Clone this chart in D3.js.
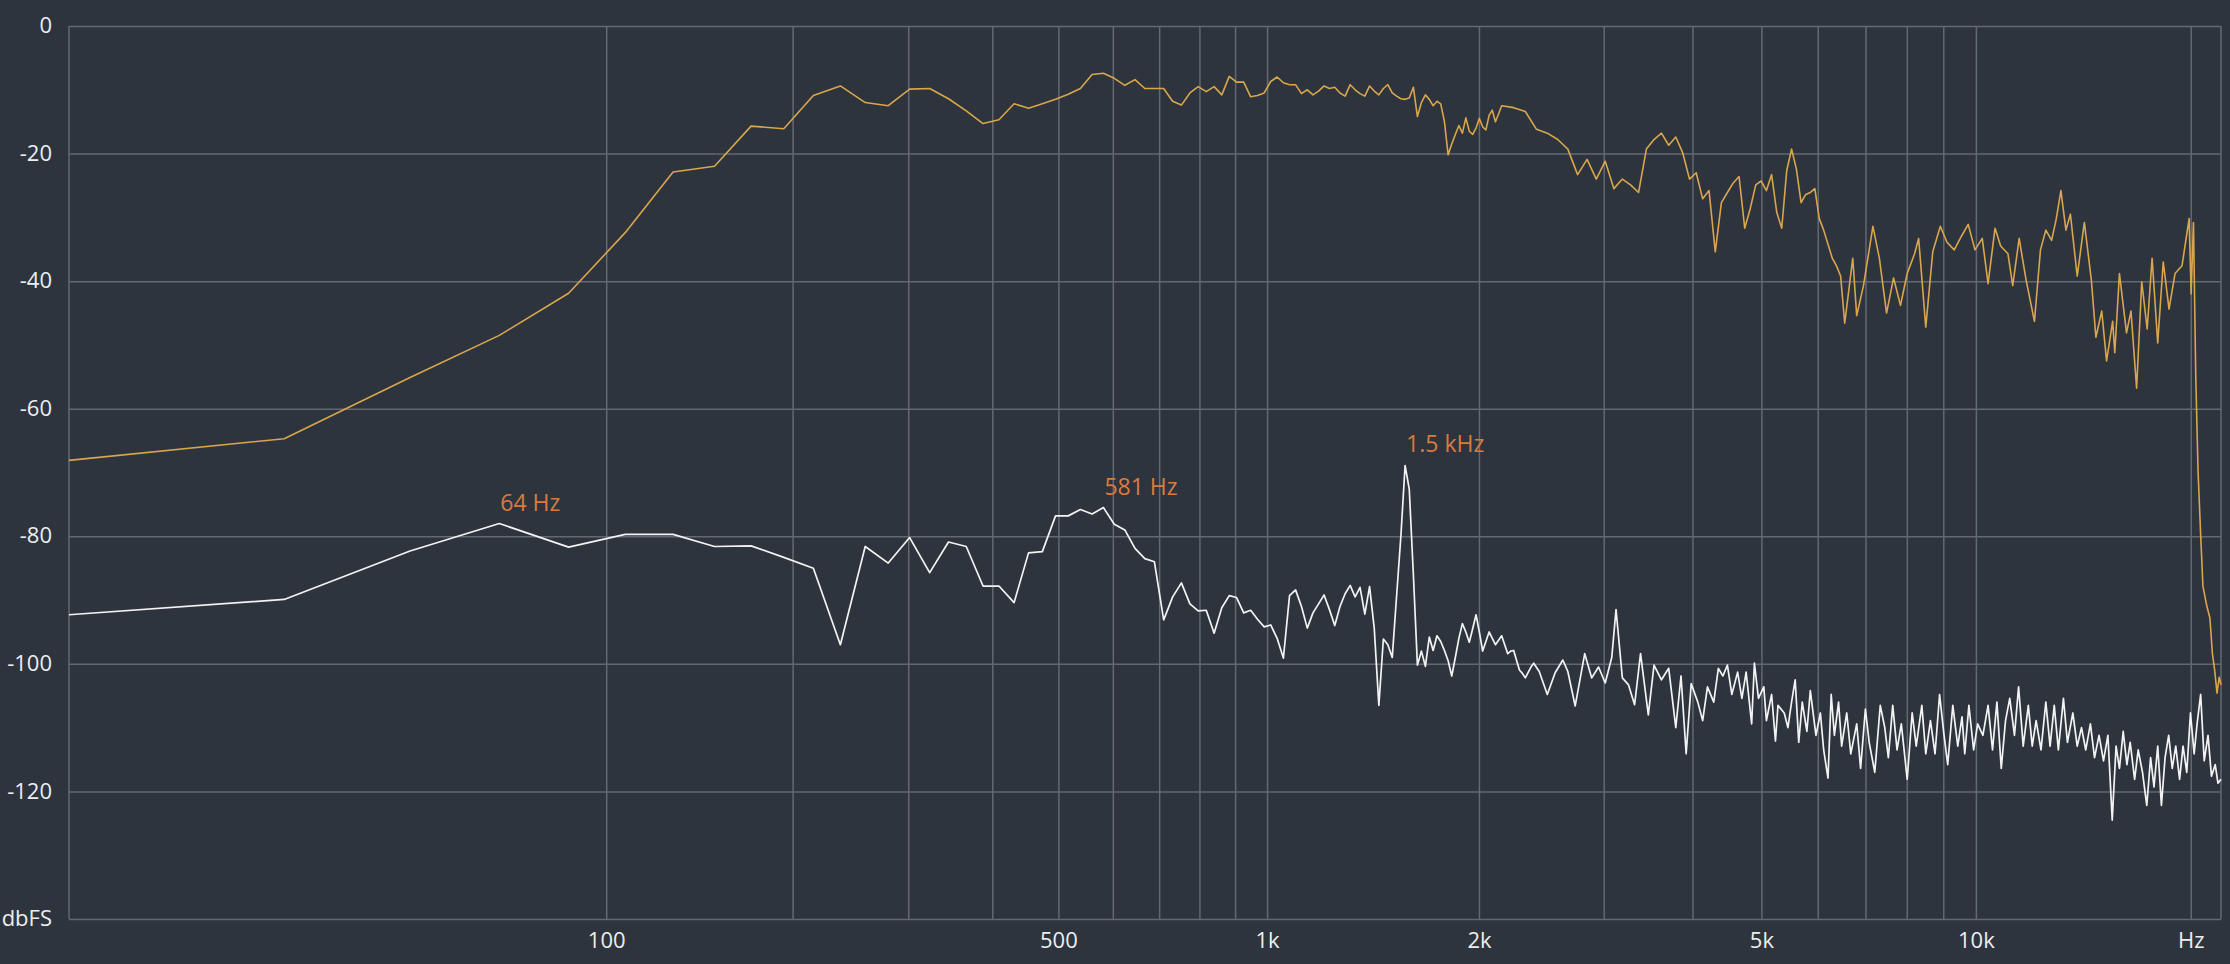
<!DOCTYPE html>
<html>
<head>
<meta charset="utf-8">
<script src="https://cdn.jsdelivr.net/npm/d3@7"></script>
<style>
  body { margin: 0; background: #2e343d; }
  svg { display: block; }
  text { font-family: "Open Sans", Lato, sans-serif; }
</style>
</head>
<body>
<svg id="spectrum"></svg>
<script>
// FFT bins (44.1 kHz, 2048 points) and levels in dBFS
const binHz = 44100 / 2048;

const yellowBins = [0,1,2,3,4,5,6,7,8,9,10,11,12,13,14,15,16,17,18,19,20,21,22,23,24,25,26,27,28,29,30,31,32,33,34,35,36,37,38,39,40,41,42,43,44,45,46,47,48,49,50,
  51,52,53,54,55,56,57,58,59,60,61,62,63,64,65,66,67,68,69,70,71,72,73,74,75,76,77,78,79,80,81,82,83,84,85,86,87,88,89,90,91,92,93,94,95,96,97,98,99,
  100,104,108,112,116,120,124,128,132,136,140,144,148,152,156,160,164,168,172,176,180,184,188,192,196,200,204,208,212,216,220,224,228,232,236,240,244,248,252,256,260,264,268,272,276,280,284,288,292,296,300,
  304,312,316,323,333,340,348,356,364,372,381,386,395,404,414,423,433,443,453,463,474,483,494,503,515,523,534,546,561,572,582,593,602,611,621,630,644,659,674,684,697,708,722,727,738,755,766,780,793,807,820,835,850,866,883,903,910,924,930,937,944,951,959,966,978,988,996,1003,1011,1018,1024];
const yellowDb = [-68.1,-64.7,-55.1,-48.5,-41.9,-32.4,-22.9,-22.0,-15.7,-16.1,-10.9,-9.4,-12.0,-12.5,-9.9,-9.8,-11.4,-13.3,-15.3,-14.7,-12.2,-12.9,-12.2,-11.5,-10.7,-9.8,-7.6,-7.4,-8.2,-9.3,-8.4,-9.8,-9.8,-9.8,-11.8,-12.4,-10.5,-9.5,-10.3,-9.5,-10.8,-7.9,-8.8,-8.8,-11.1,-10.9,-10.5,-8.7,-8.0,-8.9,-9.2,
  -9.2,-10.6,-10.0,-10.8,-10.2,-9.4,-9.8,-9.6,-10.5,-11.0,-9.2,-10.0,-10.6,-11.0,-9.4,-10.2,-10.8,-9.8,-9.2,-10.5,-11.0,-11.4,-11.5,-11.3,-9.6,-14.2,-12.0,-10.8,-11.5,-12.5,-11.8,-12.2,-15.0,-20.2,-18.5,-17.0,-15.6,-16.8,-14.4,-16.5,-17.0,-16.0,-14.5,-15.8,-16.3,-14.0,-13.2,-15.0,-13.8,
  -12.5,-12.8,-13.4,-16.2,-16.8,-17.8,-19.3,-23.3,-20.9,-24.0,-21.2,-25.5,-24.0,-24.9,-26.1,-19.3,-17.8,-16.8,-18.7,-17.4,-19.9,-24.0,-23.0,-27.1,-25.8,-35.4,-27.7,-26.1,-24.6,-23.6,-31.7,-28.6,-24.9,-24.3,-25.8,-23.3,-29.2,-31.7,-22.7,-19.3,-22.4,-27.7,-26.4,-26.1,-25.5,-30.2,-32.0,-34.2,-36.4,-37.6,-39.2,
  -46.6,-36.4,-45.4,-40.7,-31.4,-36.4,-45.0,-39.5,-43.8,-38.8,-35.7,-33.3,-47.2,-35.4,-31.4,-33.9,-35.1,-33.0,-31.1,-35.1,-33.3,-40.4,-31.7,-34.5,-35.7,-40.7,-33.3,-39.8,-46.3,-35.1,-32.0,-33.6,-30.2,-25.8,-32.0,-29.5,-39.2,-30.8,-39.8,-48.8,-44.7,-52.5,-46.3,-51.2,-38.8,-48.1,-44.7,-56.8,-40.1,-47.5,-36.4,-49.7,-37.0,-44.4,-38.8,-37.6,-35.1,-30.2,-42.0,-30.8,-55.0,-69.8,-79.8,-87.8,-90.9,-92.8,-98.4,-100.9,-104.6,-102.1,-103.3];

const whiteBins = [0,1,2,3,4,5,6,7,8,9,10,11,12,13,14,15,16,17,18,19,20,21,22,23,24,25,26,27,28,29,30,31,32,33,34,35,36,37,38,39,40,41,42,43,44,45,46,47,48,49,50,
  51,52,53,54,55,56,57,58,59,60,61,62,63,64,65,66,67,68,69,70,71,72,73,74,75,76,77,78,79,80,81,82,83,84,85,86,87,88,89,90,91,92,93,94,95,96,97,98,99,100,
  101,102,103,104,105,106,107,108,110,111,113,116,119,122,124,127,131,134,137,140,143,145,148,151,154,157,161,
  164,168,172,176,179,182,185,189,192,195,199,202,205,208,211,215,218,221,225,227,230,234,236,240,243,245,250,253,256,259,262,265,269,272,277,
  281,284,288,291,294,298,301,306,310,316,320,325,329,335,341,346,350,355,360,365,372,378,383,390,395,401,407,413,419,424,431,438,444,
  448,454,461,467,475,483,490,497,504,511,518,526,533,541,550,557,564,573,582,590,598,606,616,624,635,644,653,662,672,681,691,701,711,
  721,730,738,747,756,764,775,784,795,806,816,825,835,845,855,865,875,885,896,906,917,928,939,948,959,970,982,993,1005,1014,1024];
const whiteDb = [-92.3,-89.9,-82.3,-78.0,-81.7,-79.7,-79.7,-81.6,-81.5,-83.3,-85.0,-97.0,-81.6,-84.2,-80.2,-85.7,-80.9,-81.6,-87.8,-87.8,-90.4,-82.6,-82.4,-76.8,-76.8,-75.8,-76.5,-75.5,-78.1,-79.0,-81.9,-83.5,-84.0,-93.1,-89.5,-87.3,-90.6,-91.7,-91.6,-95.2,-91.2,-89.3,-89.6,-92.0,-91.6,-93.0,-94.2,-93.9,-96.0,-99.1,-89.3,
  -88.4,-91.0,-94.4,-92.0,-90.6,-89.2,-91.5,-94.0,-91.0,-89.0,-87.7,-89.5,-88.0,-92.2,-87.9,-94.4,-106.5,-96.1,-97.0,-99.0,-89.4,-80.0,-68.9,-72.6,-86.0,-100.2,-98.0,-100.4,-95.8,-97.9,-95.6,-96.5,-97.9,-99.5,-101.9,-99.0,-96.0,-93.7,-95.0,-96.6,-94.5,-92.3,-95.0,-98.0,-96.5,-95.0,-96.0,-97.0,-96.3,-95.6,
  -97.0,-98.4,-98.0,-97.9,-99.5,-101.0,-101.5,-102.2,-100.5,-99.9,-101.2,-104.8,-101.4,-99.4,-101.2,-106.6,-98.4,-102.2,-100.5,-103.0,-99.0,-91.5,-102.2,-103.3,-106.4,-98.4,-108.0,
  -100.2,-102.5,-100.7,-110.0,-101.9,-114.1,-103.1,-106.0,-108.9,-103.6,-106.0,-100.7,-101.9,-100.2,-104.8,-101.3,-105.4,-101.3,-109.4,-99.9,-105.4,-103.6,-108.9,-104.8,-112.1,-106.5,-107.7,-110.0,-106.0,-102.5,-112.3,-106.0,-110.6,-104.2,-111.2,
  -107.7,-113.5,-117.9,-104.8,-111.2,-106.0,-112.9,-107.7,-114.1,-109.4,-116.4,-107.1,-112.3,-117.0,-106.5,-110.0,-114.7,-106.5,-113.5,-109.4,-118.1,-107.7,-112.9,-106.5,-114.1,-108.9,-114.1,-104.8,-111.2,-115.8,-106.5,-112.9,-108.3,
  -114.1,-106.5,-113.5,-109.4,-111.2,-106.5,-113.5,-106.0,-116.4,-108.9,-105.4,-111.2,-103.6,-112.9,-106.5,-112.9,-108.9,-113.5,-106.0,-112.9,-106.5,-113.5,-105.4,-112.3,-107.7,-112.9,-110.0,-113.5,-109.4,-114.7,-111.2,-115.2,-111.2,
  -124.5,-112.9,-116.4,-110.6,-115.8,-112.3,-118.1,-113.5,-117.0,-122.2,-114.7,-119.3,-112.9,-122.2,-114.7,-111.2,-116.4,-112.9,-118.1,-112.9,-117.0,-107.7,-114.1,-109.4,-104.8,-115.2,-111.2,-117.6,-115.8,-118.7,-118.1];

const peakLabels = [
  { bin: 3, db: -78.0, text: "64 Hz" },
  { bin: 27, db: -75.5, text: "581 Hz" },
  { bin: 73, db: -68.9, text: "1.5 kHz" }
];

const gridFreqs = [100,200,300,400,500,600,700,800,900,1000,2000,3000,4000,5000,6000,7000,8000,9000,10000,20000];
const xTickFreqs = [100, 500, 1000, 2000, 5000, 10000, 20000];
const xTickNames = ["100", "500", "1k", "2k", "5k", "10k", "Hz"];
const yTicks = [0, -20, -40, -60, -80, -100, -120, -140];
const yTickNames = ["0", "-20", "-40", "-60", "-80", "-100", "-120", "dbFS"];

const W = 2230, H = 964;
const m = { left: 69, right: 2221, top: 26, bottom: 919 };

const svg = d3.select("#spectrum").attr("width", W).attr("height", H);
svg.append("rect").attr("width", W).attr("height", H).attr("fill", "#2e343d");

// x works on bin + 1 so bin 0 sits at the left edge
const x = d3.scaleLog().domain([1, 1025]).range([m.left, m.right]);
const y = d3.scaleLinear().domain([-140, 0]).range([m.bottom, m.top]);

// grid
const gridX = svg.append("g").attr("transform", `translate(0,${m.bottom})`)
  .call(d3.axisBottom(x).tickValues(gridFreqs.map(f => f / binHz + 1)).tickSize(-(m.bottom - m.top)).tickFormat(""));
const gridY = svg.append("g").attr("transform", `translate(${m.left},0)`)
  .call(d3.axisLeft(y).tickValues(yTicks).tickSize(-(m.right - m.left)).tickFormat(""));
[gridX, gridY].forEach(g => {
  g.select(".domain").remove();
  g.selectAll("line").attr("stroke", "#626973").attr("stroke-width", 1.5);
});
[m.left, m.right].forEach(px => {
  svg.append("line").attr("x1", px).attr("x2", px).attr("y1", m.top).attr("y2", m.bottom)
    .attr("stroke", "#626973").attr("stroke-width", 1.5);
});

// tick labels
const xAxis = svg.append("g").attr("transform", `translate(0,${m.bottom})`)
  .call(d3.axisBottom(x).tickValues(xTickFreqs.map(f => f / binHz + 1)).tickSize(0)
    .tickFormat((d, i) => xTickNames[i]));
xAxis.select(".domain").remove();
xAxis.selectAll("text").attr("fill", "#eceef0").attr("font-size", 22).attr("dy", "0").attr("y", 29);

const yAxis = svg.append("g").attr("transform", `translate(${m.left},0)`)
  .call(d3.axisLeft(y).tickValues(yTicks).tickSize(0).tickFormat((d, i) => yTickNames[i]));
yAxis.select(".domain").remove();
yAxis.selectAll("text").attr("fill", "#eceef0").attr("font-size", 22).attr("x", -17).attr("dy", "0.3em");

// spectra
const line = d3.line().x(d => x(d[0] + 1)).y(d => y(d[1]));
svg.append("path").datum(d3.zip(yellowBins, yellowDb))
  .attr("d", line).attr("fill", "none").attr("stroke", "#d8a64c").attr("stroke-width", 1.6)
  .attr("stroke-linejoin", "round");
svg.append("path").datum(d3.zip(whiteBins, whiteDb))
  .attr("d", line).attr("fill", "none").attr("stroke", "#f3f3f3").attr("stroke-width", 1.7)
  .attr("stroke-linejoin", "round");

// peak annotations
svg.selectAll(".peak").data(peakLabels).enter().append("text")
  .attr("class", "peak")
  .attr("x", d => x(d.bin + 1) + 1)
  .attr("y", d => y(d.db) - 13)
  .attr("fill", "#dc7a3c").attr("font-size", 23)
  .text(d => d.text);
</script>
</body>
</html>
